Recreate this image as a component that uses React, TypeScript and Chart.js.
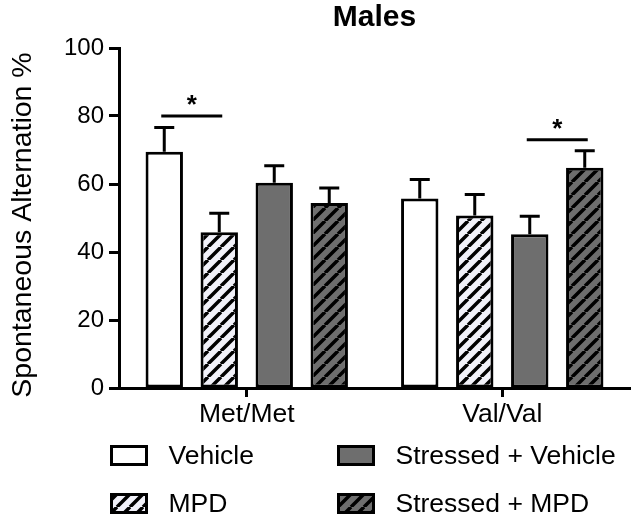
import React, { useEffect, useRef } from "react";
import { Chart, registerables } from "chart.js";

Chart.register(...registerables);

// ---- data ----
const categories = ["Met/Met", "Val/Val"];
const seriesNames = ["Vehicle", "MPD", "Stressed + Vehicle", "Stressed + MPD"];
const vehicleVals = [69.5, 55.7];
const mpdVals = [45.8, 50.7];
const stressedVehicleVals = [60.4, 45.2];
const stressedMpdVals = [54.4, 64.8];
const vehicleErr = [7.1, 5.6];
const mpdErr = [5.6, 6.2];
const stressedVehicleErr = [5.0, 5.3];
const stressedMpdErr = [4.4, 5.0];
const yTickStep = 20;
const yMin = 0;
const yMax = 100;
const chartTitle = "Males";
const yAxisTitle = "Spontaneous Alternation %";
// significance: category index, series a, series b, bracket height (value)
const sigCategory = [0, 1];
const sigSeriesA = [0, 2];
const sigSeriesB = [1, 3];
const sigLevel = [80, 73];
const sigLabel = ["*", "*"];

const FONT = "'Liberation Sans', Arial, Helvetica, sans-serif";
const GRAY = "#6e6e6e";
const LIGHT = "#f1f1f9";

function makeHatch(bg: string, fg: string): CanvasPattern | string {
  const n = 13;
  const c = document.createElement("canvas");
  c.width = n;
  c.height = n;
  const g = c.getContext("2d");
  if (!g) return bg;
  g.fillStyle = bg;
  g.fillRect(0, 0, n, n);
  g.strokeStyle = fg;
  g.lineWidth = 3.5;
  g.beginPath();
  for (const x0 of [-n, 0, n]) {
    g.moveTo(x0, n);
    g.lineTo(x0 + n, 0);
  }
  g.stroke();
  const p = g.createPattern(c, "repeat");
  return p || bg;
}

export default function App() {
  const ref = useRef<HTMLCanvasElement | null>(null);

  useEffect(() => {
    const canvas = ref.current;
    if (!canvas) return;
    const values = [vehicleVals, mpdVals, stressedVehicleVals, stressedMpdVals];
    const errors = [vehicleErr, mpdErr, stressedVehicleErr, stressedMpdErr];
    const fills: any[] = ["#ffffff", makeHatch(LIGHT, "#000"), GRAY, makeHatch(GRAY, "#000")];

    const errorBars = {
      id: "errorBars",
      afterDatasetsDraw(chart: any) {
        const ctx = chart.ctx;
        const ys = chart.scales.y;
        ctx.save();
        ctx.strokeStyle = "#000";
        ctx.lineWidth = 3;
        ctx.lineCap = "butt";
        values.forEach((_, i) => {
          const meta = chart.getDatasetMeta(i);
          meta.data.forEach((bar: any, j: number) => {
            const top = ys.getPixelForValue(values[i][j] + errors[i][j]);
            ctx.beginPath();
            ctx.moveTo(bar.x, bar.y);
            ctx.lineTo(bar.x, top);
            ctx.moveTo(bar.x - 10, top);
            ctx.lineTo(bar.x + 10, top);
            ctx.stroke();
          });
        });
        // significance brackets
        sigCategory.forEach((cat, k) => {
          const a = chart.getDatasetMeta(sigSeriesA[k]).data[cat];
          const b = chart.getDatasetMeta(sigSeriesB[k]).data[cat];
          const y = ys.getPixelForValue(sigLevel[k]);
          ctx.beginPath();
          ctx.moveTo(a.x - 3, y);
          ctx.lineTo(b.x + 3, y);
          ctx.stroke();
          ctx.fillStyle = "#000";
          ctx.font = `bold 26px ${FONT}`;
          ctx.textAlign = "center";
          ctx.textBaseline = "alphabetic";
          ctx.fillText(sigLabel[k], (a.x + b.x) / 2, y - 3);
        });
        ctx.restore();
      },
    };

    const yTitlePlugin = {
      id: "yTitle",
      afterDraw(chart: any) {
        const ctx = chart.ctx;
        ctx.save();
        ctx.translate(23, 225);
        ctx.rotate(-Math.PI / 2);
        ctx.fillStyle = "#000";
        ctx.font = `28.5px ${FONT}`;
        ctx.textAlign = "center";
        ctx.textBaseline = "middle";
        ctx.fillText(yAxisTitle, 0, 0);
        ctx.restore();
      },
    };

    const legendPlugin = {
      id: "gridLegend",
      afterDraw(chart: any) {
        const ctx = chart.ctx;
        const colX = [111.5, 338.5];
        const rowY = [446.5, 494.5];
        const order = [
          [0, 0, 0],
          [1, 0, 1],
          [2, 1, 0],
          [3, 1, 1],
        ];
        ctx.save();
        order.forEach(([s, col, row]) => {
          const x = colX[col];
          const y = rowY[row];
          ctx.fillStyle = fills[s];
          ctx.fillRect(x, y, 35, 18);
          ctx.strokeStyle = "#000";
          ctx.lineWidth = 3;
          ctx.strokeRect(x, y, 35, 18);
          ctx.fillStyle = "#000";
          ctx.font = `26.5px ${FONT}`;
          ctx.textAlign = "left";
          ctx.textBaseline = "middle";
          ctx.fillText(seriesNames[s], x + 57, y + 10);
        });
        ctx.restore();
      },
    };

    const chart = new Chart(canvas, {
      type: "bar",
      data: {
        labels: categories,
        datasets: seriesNames.map((name, i) => ({
          label: name,
          data: values[i],
          backgroundColor: fills[i],
          borderColor: "#000",
          borderWidth: 3,
          borderSkipped: false,
          categoryPercentage: 0.861,
          barPercentage: 0.68,
        })),
      },
      options: {
        responsive: false,
        animation: false,
        layout: { padding: { top: 0, right: 8, bottom: 0, left: 0 } },
        plugins: {
          legend: { display: false },
          tooltip: { enabled: false },
          title: {
            display: true,
            text: chartTitle,
            fullSize: false,
            color: "#000",
            font: { family: FONT, size: 30, weight: "bold" },
            padding: { top: 0, bottom: 12 },
          },
        },
        scales: {
          x: {
            type: "category",
            offset: true,
            grid: {
              offset: false,
              drawOnChartArea: false,
              drawTicks: true,
              tickLength: 9,
              tickWidth: 3,
              tickColor: "#000",
            },
            border: { display: true, color: "#000", width: 3 },
            ticks: { color: "#000", font: { family: FONT, size: 26.5 }, padding: 2 },
            afterFit(scale: any) {
              scale.height = 136;
            },
          },
          y: {
            min: yMin,
            max: yMax,
            ticks: {
              stepSize: yTickStep,
              color: "#000",
              font: { family: FONT, size: 24 },
              padding: 5,
            },
            grid: {
              drawOnChartArea: false,
              tickLength: 10,
              tickWidth: 3,
              tickColor: "#000",
            },
            border: { display: true, color: "#000", width: 3 },
            title: { display: false },
            afterFit(scale: any) {
              scale.width = 119;
            },
          },
        },
      },
      plugins: [errorBars, yTitlePlugin, legendPlugin],
    });
    return () => chart.destroy();
  }, []);

  return (
    <div style={{ position: "absolute", left: 0, top: 0, width: 638, height: 524, background: "#fff" }}>
      <canvas ref={ref} width={638} height={524} style={{ display: "block" }} />
    </div>
  );
}
